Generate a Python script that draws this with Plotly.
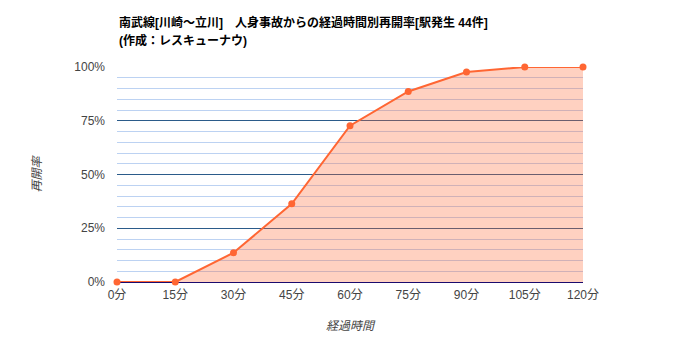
import plotly.graph_objects as go

minutes = [0, 15, 30, 45, 60, 75, 90, 105, 120]
rate_pct = [0, 0, 13.6, 36.4, 72.7, 88.6, 97.7, 100, 100]
x_tick_vals = [0, 15, 30, 45, 60, 75, 90, 105, 120]
x_tick_text = ["0分", "15分", "30分", "45分", "60分", "75分", "90分", "105分", "120分"]
y_tick_vals = [0, 25, 50, 75, 100]
y_tick_text = ["0%", "25%", "50%", "75%", "100%"]
title_line1 = "南武線[川崎～立川]　人身事故からの経過時間別再開率[駅発生 44件]"
title_line2 = "(作成：レスキューナウ)"

FONT = "Arial, Liberation Sans, Noto Sans CJK JP"

fig = go.Figure()
fig.add_trace(go.Scatter(
    x=minutes, y=rate_pct, mode="lines+markers",
    line=dict(color="#ff6633", width=2),
    marker=dict(color="#ff6633", size=7),
    fill="tozeroy", fillcolor="rgba(255,102,51,0.3)",
    cliponaxis=False,
    hoverinfo="x+y", showlegend=False,
))

for i, t in enumerate([title_line1, title_line2]):
    fig.add_annotation(
        text=t, xref="paper", yref="paper",
        x=0, xanchor="left", y=1 + (67 - 22 - 19 * i) / 215, yanchor="middle",
        showarrow=False,
        font=dict(family=FONT, size=12, color="#000000", weight="bold"),
    )

fig.update_layout(
    width=700, height=350,
    margin=dict(l=117, r=117, t=67, b=68),
    paper_bgcolor="white", plot_bgcolor="white",
    font=dict(family=FONT, size=12, color="#444444"),
    xaxis=dict(
        range=[0, 120], tickvals=x_tick_vals, ticktext=x_tick_text,
        showgrid=False, zeroline=False, showline=False, ticks="",
        ticklabelstandoff=4,
        tickfont=dict(size=12, color="#444444"),
        title=dict(text="<i>経過時間</i>", font=dict(size=12, color="#444444"), standoff=20),
    ),
    yaxis=dict(
        range=[0, 100], tickvals=y_tick_vals, ticktext=y_tick_text,
        showgrid=True, gridcolor="#2b5b8a", gridwidth=1,
        zeroline=True, zerolinecolor="#1a0a6e", zerolinewidth=1,
        showline=False, ticks="",
        ticklabelstandoff=11,
        minor=dict(dtick=5, showgrid=True, gridcolor="#bcd2f2", gridwidth=1),
        tickfont=dict(size=12, color="#444444"),
        title=dict(text="<i>再開率</i>", font=dict(size=12, color="#444444"), standoff=30),
    ),
)

fig.write_html("out.html")
